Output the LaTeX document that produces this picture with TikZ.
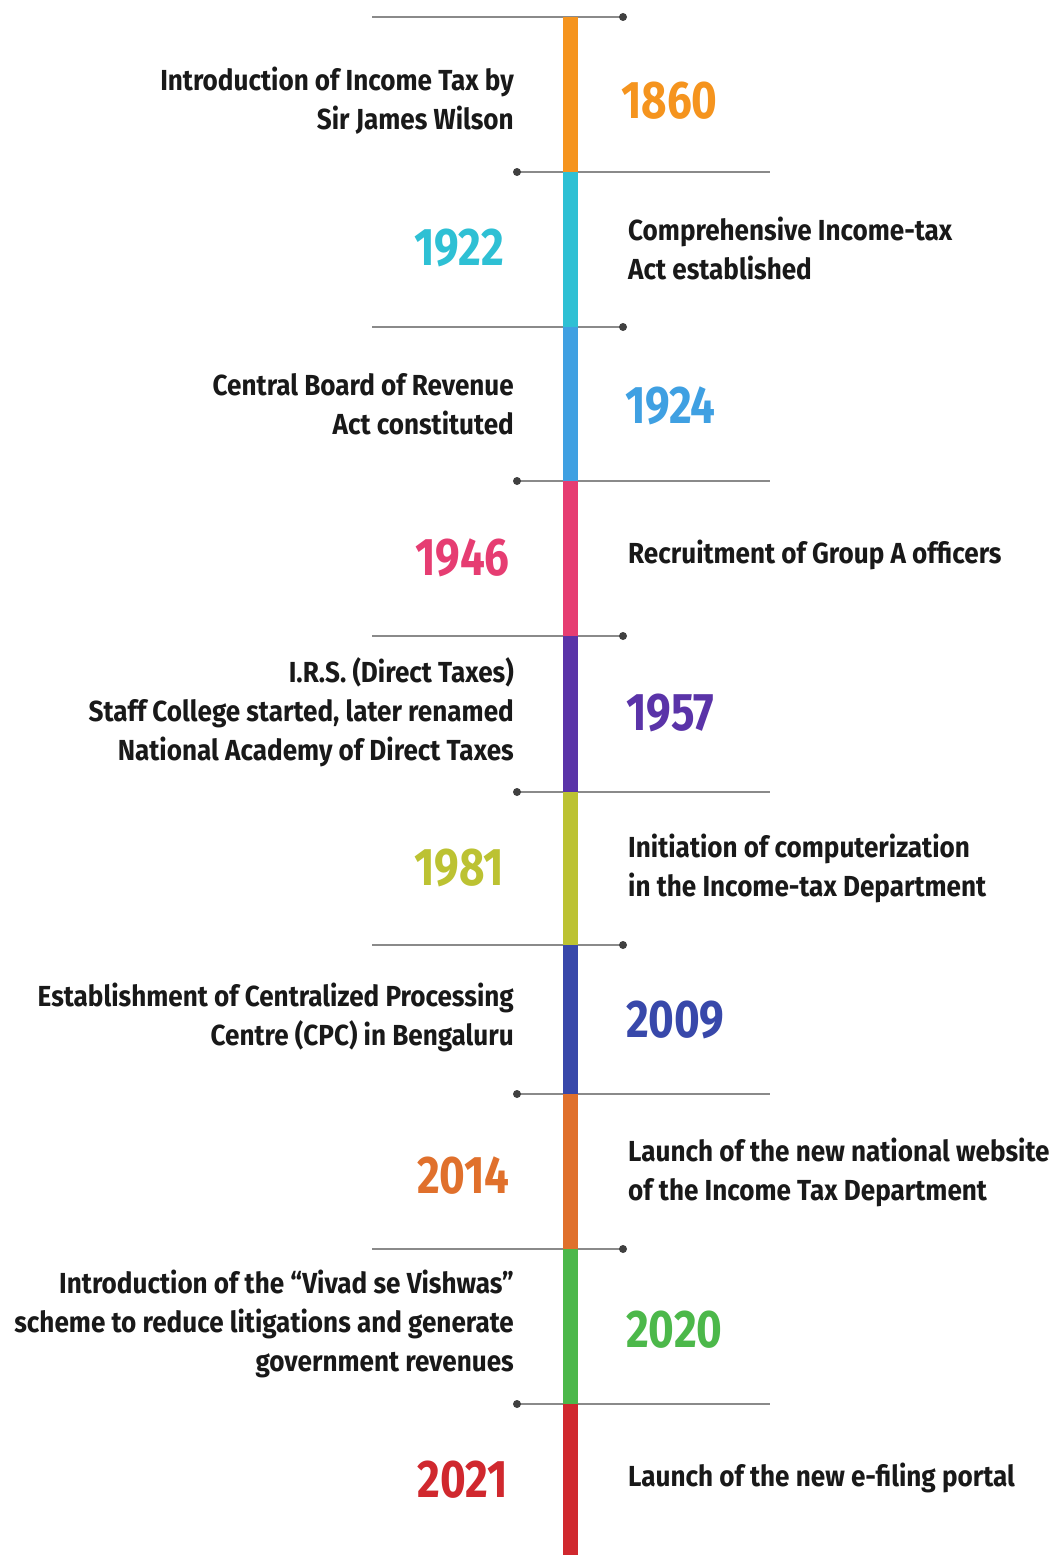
\documentclass[tikz,border=0pt]{standalone}
\usepackage{fontspec}
\usepackage{tikz}
\usetikzlibrary{positioning}
\newfontfamily\tlfont[FakeStretch=0.9]{Fira Sans}
\newfontfamily\yrfont[FakeStretch=0.83]{Fira Sans}

\definecolor{yrA}{HTML}{F5941E}
\definecolor{yrB}{HTML}{2EC0D4}
\definecolor{yrC}{HTML}{3FA0E2}
\definecolor{yrD}{HTML}{E63D72}
\definecolor{yrE}{HTML}{5A33A8}
\definecolor{yrF}{HTML}{BCC232}
\definecolor{yrG}{HTML}{3848AA}
\definecolor{yrH}{HTML}{E0702C}
\definecolor{yrI}{HTML}{4CB84A}
\definecolor{yrJ}{HTML}{D0282E}
\definecolor{sepgray}{HTML}{8A8A8A}

\tikzset{
  evtleft/.style={anchor=east, align=right, inner sep=0pt, font=\tlfont\bfseries\fontsize{29}{39}\selectfont, text=black!90},
  evtright/.style={anchor=west, align=left, inner sep=0pt, font=\tlfont\bfseries\fontsize{29}{39}\selectfont, text=black!90},
  yrleft/.style={anchor=east, inner sep=0pt, font=\yrfont\bfseries\fontsize{53}{60}\selectfont},
  yrright/.style={anchor=west, inner sep=0pt, font=\yrfont\bfseries\fontsize{53}{60}\selectfont},
  sepline/.style={draw=sepgray, line width=2.2pt},
  sepdot/.style={fill=black!75},
  barseg/.style={line width=15pt}
}

\begin{document}
\begin{tikzpicture}[x=1pt, y=-1pt]
    \useasboundingbox[fill=white] (0,0) rectangle (1054,1555);

    % separators
    \draw[sepline] (372,17) -- (623,17);
    \fill[sepdot] (623,17) circle (4);
    \draw[sepline] (517,172) -- (770,172);
    \fill[sepdot] (517,172) circle (4);
    \draw[sepline] (372,327) -- (623,327);
    \fill[sepdot] (623,327) circle (4);
    \draw[sepline] (517,481) -- (770,481);
    \fill[sepdot] (517,481) circle (4);
    \draw[sepline] (372,636) -- (623,636);
    \fill[sepdot] (623,636) circle (4);
    \draw[sepline] (517,792) -- (770,792);
    \fill[sepdot] (517,792) circle (4);
    \draw[sepline] (372,945) -- (623,945);
    \fill[sepdot] (623,945) circle (4);
    \draw[sepline] (517,1094) -- (770,1094);
    \fill[sepdot] (517,1094) circle (4);
    \draw[sepline] (372,1249) -- (623,1249);
    \fill[sepdot] (623,1249) circle (4);
    \draw[sepline] (517,1404) -- (770,1404);
    \fill[sepdot] (517,1404) circle (4);

    % the bar
    \draw[barseg, yrA] (570,17) -- (570,172);
    \draw[barseg, yrB] (570,172) -- (570,327);
    \draw[barseg, yrC] (570,327) -- (570,481);
    \draw[barseg, yrD] (570,481) -- (570,636);
    \draw[barseg, yrE] (570,636) -- (570,792);
    \draw[barseg, yrF] (570,792) -- (570,945);
    \draw[barseg, yrG] (570,945) -- (570,1094);
    \draw[barseg, yrH] (570,1094) -- (570,1249);
    \draw[barseg, yrI] (570,1249) -- (570,1404);
    \draw[barseg, yrJ] (570,1404) -- (570,1555);

    % events
    \node[evtleft] (evA) at (514,101) {Introduction of Income Tax by\\Sir James Wilson};
    \node[yrright, text=yrA] (yrA) at (621,101) {1860};

    \node[yrleft, text=yrB] (yrB) at (504,248) {1922};
    \node[evtright] (evB) at (628,248) {Comprehensive Income-tax\\Act established};

    \node[evtleft] (evC) at (514,404) {Central Board of Revenue\\Act constituted};
    \node[yrright, text=yrC] (yrC) at (625,406) {1924};

    \node[yrleft, text=yrD] (yrD) at (510,558) {1946};
    \node[evtright] (evD) at (628,555) {Recruitment of Group A officers};

    \node[evtleft] (evE) at (514,712) {I.R.S. (Direct Taxes)\\Staff College started, later renamed\\National Academy of Direct Taxes};
    \node[yrright, text=yrE] (yrE) at (626,713) {1957};

    \node[yrleft, text=yrF] (yrF) at (504,868) {1981};
    \node[evtright] (evF) at (628,868) {Initiation of computerization\\in the Income-tax Department};

    \node[evtleft] (evG) at (514,1017) {Establishment of Centralized Processing\\Centre (CPC) in Bengaluru};
    \node[yrright, text=yrG] (yrG) at (626,1020) {2009};

    \node[yrleft, text=yrH] (yrH) at (510,1176) {2014};
    \node[evtright] (evH) at (628,1172) {Launch of the new national website\\of the Income Tax Department};

    \node[evtleft] (evI) at (514,1324) {Introduction of the “Vivad se Vishwas”\\scheme to reduce litigations and generate\\government revenues};
    \node[yrright, text=yrI] (yrI) at (626,1330) {2020};

    \node[yrleft, text=yrJ] (yrJ) at (508,1480) {2021};
    \node[evtright] (evJ) at (628,1478) {Launch of the new e-filing portal};
\end{tikzpicture}
\end{document}
